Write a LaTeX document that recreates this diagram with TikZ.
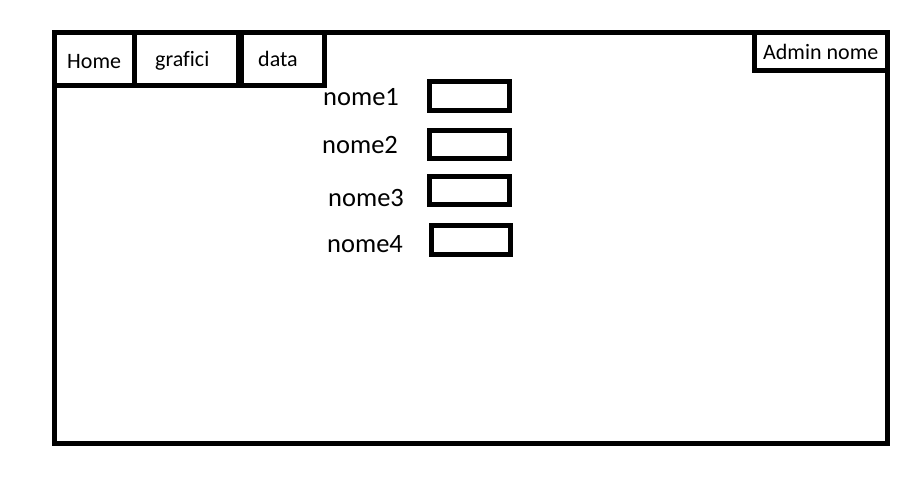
\documentclass[tikz,border=0pt]{standalone}
\usepackage{fontspec}
\setmainfont{Carlito}[Ligatures=CommonOff]
\usetikzlibrary{positioning}
\tikzset{
  frame/.style={line width=5pt,line join=miter},
  tab/.style={anchor=base west,inner sep=0pt,font=\fontsize{22}{26}\selectfont},
  lbl/.style={anchor=base west,inner sep=0pt,font=\fontsize{26.5}{30}\selectfont},
}
\begin{document}
\begin{tikzpicture}[x=1pt,y=-1pt]
\useasboundingbox (0,0) rectangle (918,501);
% main window
\draw[frame] (54,32) rectangle (887,443);
% tabs
\draw[frame] (54,32) rectangle (134,85.5);
\draw[frame] (134,32) rectangle (238.5,85.5);
\draw[frame] (241.5,32) rectangle (324.5,85.5);
\draw[frame] (754.5,32) rectangle (887,70);
\draw (67,68) node[tab](home){Home};
\draw (155,66) node[tab](grafici){grafici};
\draw (258,66) node[tab](data){data};
\draw (763,59) node[tab](admin){Admin nome};
% fields
\draw (323,105) node[lbl](nome1){nome1};
\draw (322,153) node[lbl](nome2){nome2};
\draw (328,206) node[lbl](nome3){nome3};
\draw (327,252) node[lbl](nome4){nome4};
\draw[frame] (429.5,81.5) rectangle (509.5,110);
\draw[frame] (429.5,130.5) rectangle (509.5,158.5);
\draw[frame] (429.5,176.5) rectangle (509.5,204.5);
\draw[frame] (431,225.5) rectangle (510,254.5);
\end{tikzpicture}
\end{document}
